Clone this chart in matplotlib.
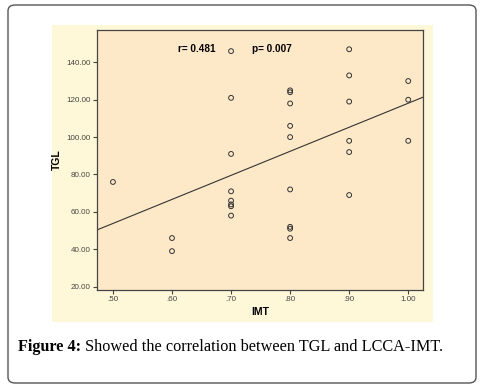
import numpy as np
import matplotlib
matplotlib.use("Agg")
import matplotlib.pyplot as plt
from matplotlib.patches import FancyBboxPatch, Rectangle

# Data
imt = [0.50,
       0.60, 0.60,
       0.70, 0.70, 0.70, 0.70, 0.70, 0.70, 0.70, 0.70,
       0.80, 0.80, 0.80, 0.80, 0.80, 0.80, 0.80, 0.80, 0.80,
       0.90, 0.90, 0.90, 0.90, 0.90, 0.90,
       1.00, 1.00, 1.00]
tgl = [76,
       46, 39,
       146, 121, 91, 71, 66, 64, 63, 58,
       125, 124, 118, 106, 100, 72, 52, 51, 46,
       147, 133, 119, 98, 92, 69,
       130, 120, 98]
x_ticks = [0.5, 0.6, 0.7, 0.8, 0.9, 1.0]
x_ticklabels = [".50", ".60", ".70", ".80", ".90", "1.00"]
y_ticks = [20, 40, 60, 80, 100, 120, 140]
y_ticklabels = ["20.00", "40.00", "60.00", "80.00", "100.00", "120.00", "140.00"]
r_text = "r= 0.481"
p_text = "p= 0.007"
caption_bold = "Figure 4:"
caption_rest = "Showed the correlation between TGL and LCCA-IMT."

W, H = 482, 388
fig = plt.figure(figsize=(W / 100, H / 100), dpi=100)
fig.patch.set_facecolor("white")

# outer rounded frame
frame = FancyBboxPatch((8 / W, 1 - 383 / H), (476 - 8) / W, (383 - 5) / H,
                       boxstyle="round,pad=0,rounding_size=0.015",
                       transform=fig.transFigure, facecolor="white",
                       edgecolor="#555555", linewidth=1.0, zorder=-3)
fig.patches.append(frame)

# chart background
bg = Rectangle((52 / W, 1 - 322 / H), (433 - 52) / W, (322 - 25) / H,
               transform=fig.transFigure, facecolor="#FFF8D8", edgecolor="none", zorder=-2)
fig.patches.append(bg)

left, right, top, bottom = 97, 423, 30, 290
ax = fig.add_axes([left / W, 1 - bottom / H, (right - left) / W, (bottom - top) / H])
ax.set_facecolor("#FDE9C8")

ax.scatter(imt, tgl, s=12, facecolors="none", edgecolors="#333333", linewidths=0.7, zorder=3)

xmin, xmax = 0.473, 1.025
slope, intercept = np.polyfit(imt, tgl, 1)
xs = np.array([xmin, xmax])
ax.plot(xs, intercept + slope * xs, color="#333333", linewidth=0.8, zorder=2)

ax.set_xlim(xmin, xmax)
ax.set_ylim(18.2, 157.3)
ax.set_xticks(x_ticks)
ax.set_xticklabels(x_ticklabels, family="Liberation Sans")
ax.set_yticks(y_ticks)
ax.set_yticklabels(y_ticklabels, family="Liberation Sans")
ax.tick_params(axis="both", labelsize=5.8, colors="#444444", length=3, width=0.8, pad=1.5)
for sp in ax.spines.values():
    sp.set_color("#444444")
    sp.set_linewidth(0.9)

ax.set_xlabel("IMT", fontsize=7.5, fontweight="bold", family="Liberation Sans", labelpad=3)
ax.set_ylabel("TGL", fontsize=7.5, fontweight="bold", family="Liberation Sans", labelpad=3)

ax.text(0.305, 0.925, r_text, transform=ax.transAxes, fontsize=7.2, fontweight="bold",
        family="Liberation Sans", ha="center", va="center")
ax.text(0.538, 0.925, p_text, transform=ax.transAxes, fontsize=7.2, fontweight="bold",
        family="Liberation Sans", ha="center", va="center")

t1 = fig.text(18 / W, 1 - 351 / H, caption_bold, fontsize=11.7, fontweight="bold",
              family="Liberation Serif", ha="left", va="baseline")
fig.canvas.draw()
bb = t1.get_window_extent()
fig.text((bb.x1 + 4) / W, 1 - 351 / H, caption_rest, fontsize=11.7,
         family="Liberation Serif", ha="left", va="baseline")

fig.savefig("out.png", dpi=100, facecolor="white")
